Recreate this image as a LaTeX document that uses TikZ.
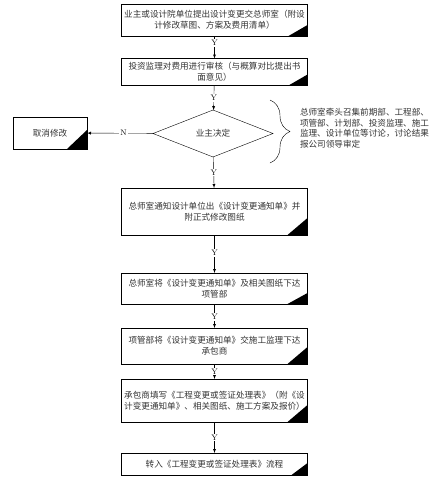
\documentclass[tikz,border=0pt]{standalone}
\usepackage{fontspec}
\newfontfamily\cjk{Noto Sans CJK SC}
\XeTeXlinebreaklocale "zh"
\usetikzlibrary{shapes.geometric,decorations.pathreplacing}
\begin{document}
\begin{tikzpicture}[x=1pt,y=-1pt,inner sep=0pt,outer sep=0pt,thin,>=latex,
flowbox/.style={draw,rectangle,minimum width=186pt,align=center,text=black!80,font=\cjk\fontsize{8.6}{11}\selectfont},
choice/.style={draw,diamond,minimum width=120pt,minimum height=47pt,text=black!80,font=\cjk\fontsize{8.6}{11}\selectfont},
ylab/.style={fill=white,inner sep=1pt,font=\fontsize{8}{9}\selectfont}]
\useasboundingbox (0,0) rectangle (437,488);
\draw (214.5,20) node[flowbox,minimum height=32pt] (req) {业主或设计院单位提出设计变更交总师室（附设\\计修改草图、方案及费用清单）};
\draw (214.5,72) node[flowbox,minimum height=27pt] (audit) {投资监理对费用进行审核（与概算对比提出书\\面意见）};
\draw (213,133.5) node[choice] (owner) {业主决定};
\draw (50,133) node[flowbox,minimum width=74pt,minimum height=32pt] (cancel) {取消修改};
\draw (214.5,211.5) node[flowbox,minimum height=47pt] (notice) {总师室通知设计单位出《设计变更通知单》并\\附正式修改图纸};
\draw (214.5,288.5) node[flowbox,minimum height=31pt] (issue) {总师室将《设计变更通知单》及相关图纸下达\\项管部};
\draw (214.5,346) node[flowbox,minimum height=36pt] (pm) {项管部将《设计变更通知单》交施工监理下达\\承包商};
\draw (214.5,400.5) node[flowbox,minimum height=43pt] (contr) {承包商填写《工程变更或签证处理表》（附《设\\计变更通知单》、相关图纸、施工方案及报价）};
\draw (214.5,464) node[flowbox,minimum height=22pt] (flow) {转入《工程变更或签证处理表》流程};
% corner marks
\fill (req.south east) -- ++(-19,0) -- ++(19,-11) -- cycle;
\fill (audit.south east) -- ++(-19,0) -- ++(19,-11) -- cycle;
\fill (cancel.south east) -- ++(-20,0) -- ++(20,-19) -- cycle;
\fill (notice.south east) -- ++(-20,0) -- ++(20,-17) -- cycle;
\fill (issue.south east) -- ++(-20,0) -- ++(20,-11) -- cycle;
\fill (pm.south east) -- ++(-20,0) -- ++(20,-17) -- cycle;
\fill (contr.south east) -- ++(-20,0) -- ++(20,-17) -- cycle;
\fill (flow.south east) -- ++(-16,0) -- ++(16,-12) -- cycle;
% connectors
\draw[->] (req) -- node[ylab,pos=0.32] {Y} (audit);
\draw[->] (audit) -- node[ylab] {Y} (owner);
\draw[->] (owner) -- node[ylab,pos=0.45] {N} (cancel);
\draw[->] (owner) -- node[ylab] {Y} (notice);
\draw[->] (notice) -- node[ylab,pos=0.47] {Y} (issue);
\draw[->] (issue) -- node[ylab,pos=0.55] {Y} (pm);
\draw[->] (pm) -- node[ylab] {Y} (contr);
\draw[->] (contr) -- node[ylab] {Y} (flow);
% note
\draw[decorate,decoration={brace,amplitude=20pt}] (270,100) -- (270,163);
\draw (300,128) node[anchor=west,align=left,text=black!80,font=\cjk\fontsize{8.6}{10.5}\selectfont] (note) {总师室牵头召集前期部、工程部、\\项管部、计划部、投资监理、施工\\监理、设计单位等讨论，讨论结果\\报公司领导审定};
\end{tikzpicture}
\end{document}
